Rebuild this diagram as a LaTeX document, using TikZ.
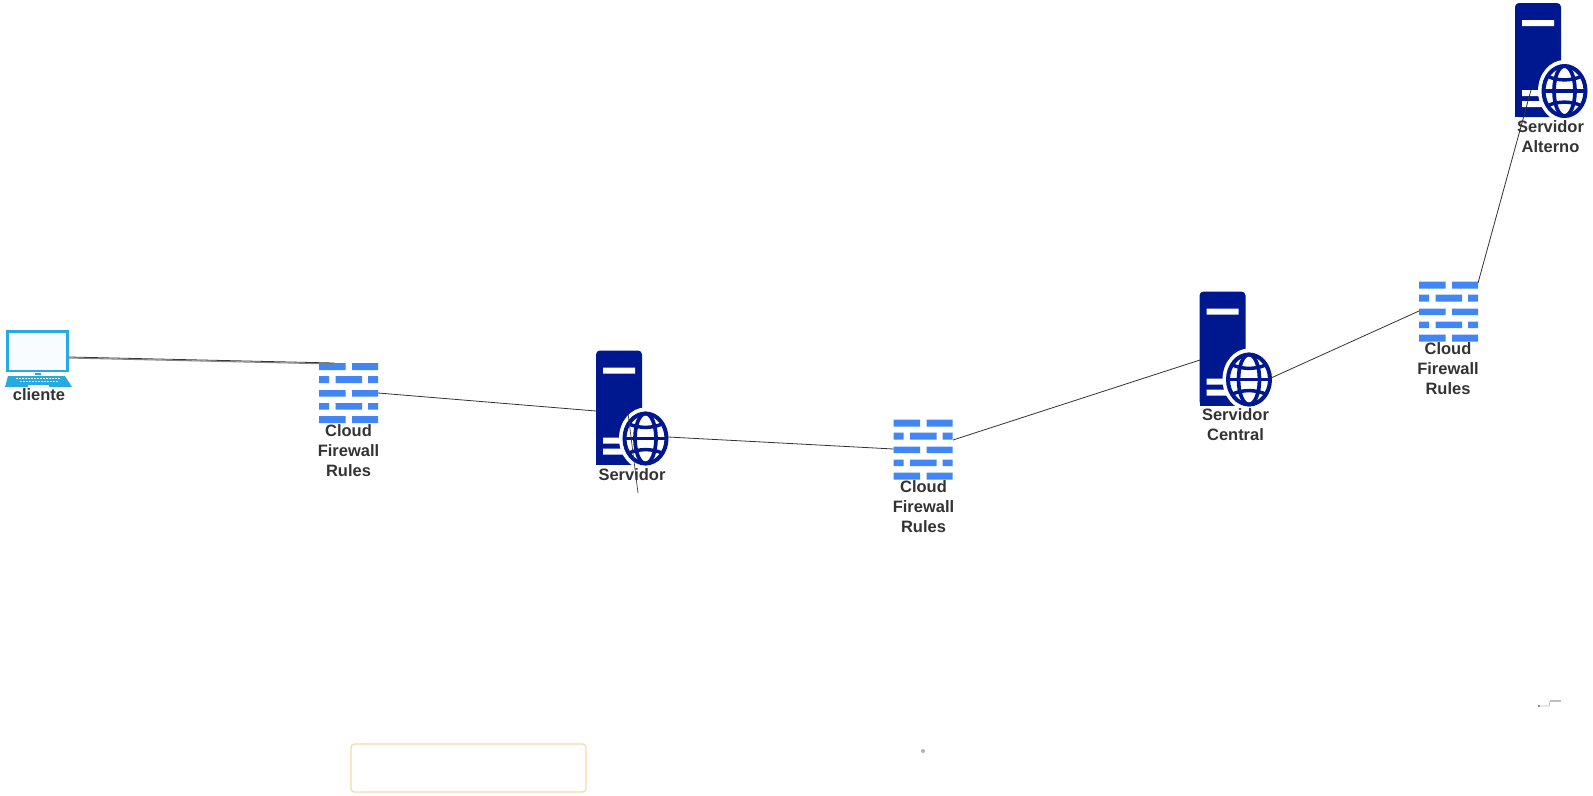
\documentclass[tikz,border=0pt]{standalone}
\usepackage{fontspec}
\setmainfont{Liberation Sans}
\definecolor{srv}{HTML}{00188F}
\definecolor{fwb}{HTML}{4285F4}
\definecolor{lap}{HTML}{27AAE1}
\definecolor{txt}{HTML}{333333}
\definecolor{conn}{HTML}{333333}
\definecolor{boxo}{HTML}{FAD9A5}
\tikzset{
  x=0.75pt,y=-0.75pt,
  lbl/.style={font=\bfseries\fontsize{12.35}{15}\selectfont,text=txt,align=center,inner sep=0pt},
  conline/.style={draw=conn,line width=0.6pt},
  pics/firewall/.style={code={
    \fill[fwb] (0,0) rectangle (26.5,7) (33,0) rectangle (59,7)
      (0,13) rectangle (10,20) (16.5,13) rectangle (43,20) (49,13) rectangle (59,20)
      (0,27) rectangle (26.5,33.5) (33,27) rectangle (59,33.5)
      (0,40) rectangle (10,46.5) (16.5,40) rectangle (43,46.5) (49,40) rectangle (59,46.5)
      (0,53) rectangle (26.5,60) (33,53) rectangle (59,60);
  }},
  pics/webserver/.style={code={
    \fill[srv,rounded corners=3pt] (0,8) -- (0,0) -- (46,0) -- (46,60) -- (46,114) -- (0,114) -- cycle;
    \fill[srv] (0,100) rectangle (46,114);
    \fill[white] (7,17) rectangle (39,23) (7,87) rectangle (30,93) (7,98) rectangle (30,104);
    \fill[white] (49.5,88) ellipse [x radius=26.5,y radius=31];
    \draw[srv,line width=3pt] (49.5,88) ellipse [x radius=21,y radius=25];
    \draw[srv,line width=2.8pt] (49.5,88) ellipse [x radius=10.5,y radius=25];
    \draw[srv,line width=2.6pt] (29,88) -- (70,88);
    \draw[srv,line width=2.6pt] (33,73.5) .. controls (43,78) and (56,78) .. (66,73.5);
    \draw[srv,line width=2.6pt] (33,102.5) .. controls (43,98) and (56,98) .. (66,102.5);
  }},
  pics/laptop/.style={code={
    \fill[white!97!lap,draw=lap,line width=2.2pt] (7.5,331.5) rectangle (67.5,371);
    \fill[lap] (35,373) rectangle (41,375);
    \fill[lap] (8,376) -- (65,376) -- (72,387) -- (5,387) -- cycle;
    \fill[white] (28,385) rectangle (49,387);
    \foreach \k in {0,...,14} {\fill[white] (16+3*\k,378) rectangle (17.5+3*\k,379);}
    \foreach \k in {0,...,12} {\fill[white] (20+3*\k,380.5) rectangle (21.5+3*\k,381.5);}
  }}
}
\begin{document}
\begin{tikzpicture}
\useasboundingbox (0,0) rectangle (1593,796);
\fill[white] (0,0) rectangle (1593,796);

% connector end points
\coordinate (lapR) at (69,357);
\coordinate (lapRb) at (69,358);
\coordinate (fwaT) at (334,363);
\coordinate (fwaTb) at (334,364);
\coordinate (fwaR) at (378,393);
\coordinate (srvaL) at (596,411);
\coordinate (srvaR) at (668,437);
\coordinate (fwbL) at (893.5,449);
\coordinate (fwbR) at (953,440);
\coordinate (srvbL) at (1200,360);
\coordinate (srvbR) at (1271,378);
\coordinate (fwcL) at (1419,311);
\coordinate (fwcT) at (1478,283);
\coordinate (srvcB) at (1531,90);
\coordinate (stubA) at (628,413);
\coordinate (stubB) at (638,493);
\coordinate (sqA) at (1539,706);
\coordinate (sqB) at (1549,706);
\coordinate (sqC) at (1550,701);
\coordinate (sqD) at (1561,701);

% icons
\pic at (0,0) {laptop};
\pic at (319,363) {firewall};
\pic at (893.5,419.5) {firewall};
\pic at (1419,281.5) {firewall};
\pic at (596,350.5) {webserver};
\pic at (1199.5,291.5) {webserver};
\pic at (1515,3) {webserver};

% connectors
\draw[conline] (lapR) -- (fwaT);
\draw[conline,draw=gray,line width=0.8pt] (lapRb) -- (fwaTb);
\draw[conline] (fwaR) -- (srvaL);
\draw[conline] (srvaR) -- (fwbL);
\draw[conline] (fwbR) -- (srvbL);
\draw[conline] (srvbR) -- (fwcL);
\draw[conline] (fwcT) -- (srvcB);
\draw[conline,line width=0.5pt] (stubA) -- (stubB);

% labels
\node[lbl] (cliente) at (39,394.5) {cliente};
\node[lbl] (fwaLabel) at (348.5,450.5) {Cloud\\Firewall\\Rules};
\node[lbl] (fwbLabel) at (923.5,506.5) {Cloud\\Firewall\\Rules};
\node[lbl] (fwcLabel) at (1448,369) {Cloud\\Firewall\\Rules};
\node[lbl] (srvaLabel) at (632,474.5) {Servidor};
\node[lbl] (srvbLabel) at (1235.5,425) {Servidor\\Central};
\node[lbl] (srvcLabel) at (1550.5,137) {Servidor\\Alterno};

% stray elements
\draw[boxo,line width=0.9pt,rounded corners=2.5pt] (351,744) rectangle (586,792);
\fill[gray!60] (923,751) circle (2);
\fill[black] (sqA) circle (0.8);
\draw[gray!50,line width=0.6pt] (sqA) -- (sqB) -- (sqC);
\draw[gray!50,line width=1pt] (sqC) -- (sqD);
\end{tikzpicture}
\end{document}
